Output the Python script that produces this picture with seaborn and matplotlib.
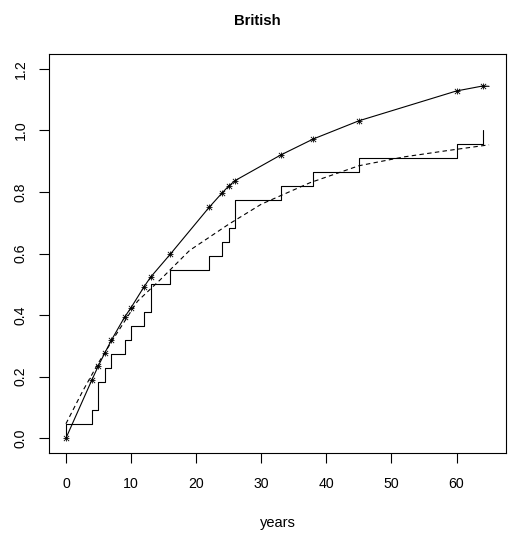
import numpy as np
import pandas as pd
import matplotlib
matplotlib.use("Agg")
import matplotlib.pyplot as plt
import seaborn as sns

# distinct event times (years) and how many observations share each time
event_years = [0, 4, 5, 6, 7, 9, 10, 12, 13, 16, 22, 24, 25, 26, 33, 38, 45, 60, 64]
event_counts = [1, 1, 2, 1, 1, 1, 1, 1, 2, 1, 1, 1, 1, 2, 1, 1, 1, 1, 1]

# estimated curve marked at each event time, continued to the end of follow-up
hazard_years = event_years + [65]
hazard_values = [0.0, 0.19, 0.236, 0.278, 0.319, 0.393, 0.424, 0.492, 0.523,
                 0.597, 0.750, 0.797, 0.819, 0.837, 0.920, 0.972, 1.031,
                 1.128, 1.144, 1.143]

# fitted distribution function
fit_years = [0, 2.5, 5, 7.5, 11, 14.5, 19, 25, 30, 37.5, 45, 52, 58.5, 65]
fit_values = [0.047, 0.15, 0.245, 0.33, 0.445, 0.515, 0.61, 0.695, 0.76,
              0.83, 0.885, 0.914, 0.934, 0.953]

x_ticks = [0, 10, 20, 30, 40, 50, 60]
y_ticks = [0.0, 0.2, 0.4, 0.6, 0.8, 1.0, 1.2]

sns.set_theme(style="white")
plt.rcParams["font.family"] = ["Liberation Sans", "DejaVu Sans"]

fig = plt.figure(figsize=(5.1, 5.4), dpi=100)
ax = fig.add_axes([49 / 510, 1 - 453 / 540, (506 - 49) / 510, (453 - 54) / 540])

# empirical distribution function as a step line
n_total = sum(event_counts)
ecdf = pd.DataFrame({
    "years": [0] + event_years,
    "prop": [0.0] + list(np.cumsum(event_counts) / n_total),
})
sns.lineplot(data=ecdf, x="years", y="prop", drawstyle="steps-post",
             estimator=None, sort=False, color="black", linewidth=0.8, ax=ax)

# fitted curve, dashed
fit = pd.DataFrame({"years": fit_years, "value": fit_values})
sns.lineplot(data=fit, x="years", y="value", estimator=None, sort=False,
             color="black", linewidth=0.8, linestyle=(0, (4, 3)), ax=ax)

# estimate line with asterisk markers at event times
haz = pd.DataFrame({"years": hazard_years, "value": hazard_values})
sns.lineplot(data=haz, x="years", y="value", estimator=None, sort=False,
             color="black", linewidth=0.8, ax=ax)
pts = haz.iloc[:-1]
for mk in ["+", "x"]:
    sns.scatterplot(data=pts, x="years", y="value", marker=mk, s=14,
                    color="black", linewidth=0.6, ax=ax, zorder=5)

ax.set_xlim(-2.6, 67.6)
ax.set_ylim(-0.048, 1.248)
ax.set_xticks(x_ticks)
ax.set_xticklabels([str(t) for t in x_ticks])
ax.set_yticks(y_ticks)
ax.set_yticklabels([f"{t:.1f}" for t in y_ticks], rotation=90, va="center")

for sp in ax.spines.values():
    sp.set_visible(True)
    sp.set_color("black")
    sp.set_linewidth(0.8)

ax.tick_params(axis="both", which="major", direction="out", length=7,
               width=0.8, color="black", labelsize=10.2, labelcolor="black",
               bottom=True, left=True)
ax.tick_params(axis="x", pad=10)
ax.tick_params(axis="y", pad=8.5)

ax.set_xlabel("years", fontsize=10.5, color="black", labelpad=18)
ax.set_ylabel("")
ax.set_title("British", fontsize=10.7, fontweight="bold", color="black",
             pad=21, x=(257 - 49) / 457)

fig.savefig("out.png", dpi=100)
